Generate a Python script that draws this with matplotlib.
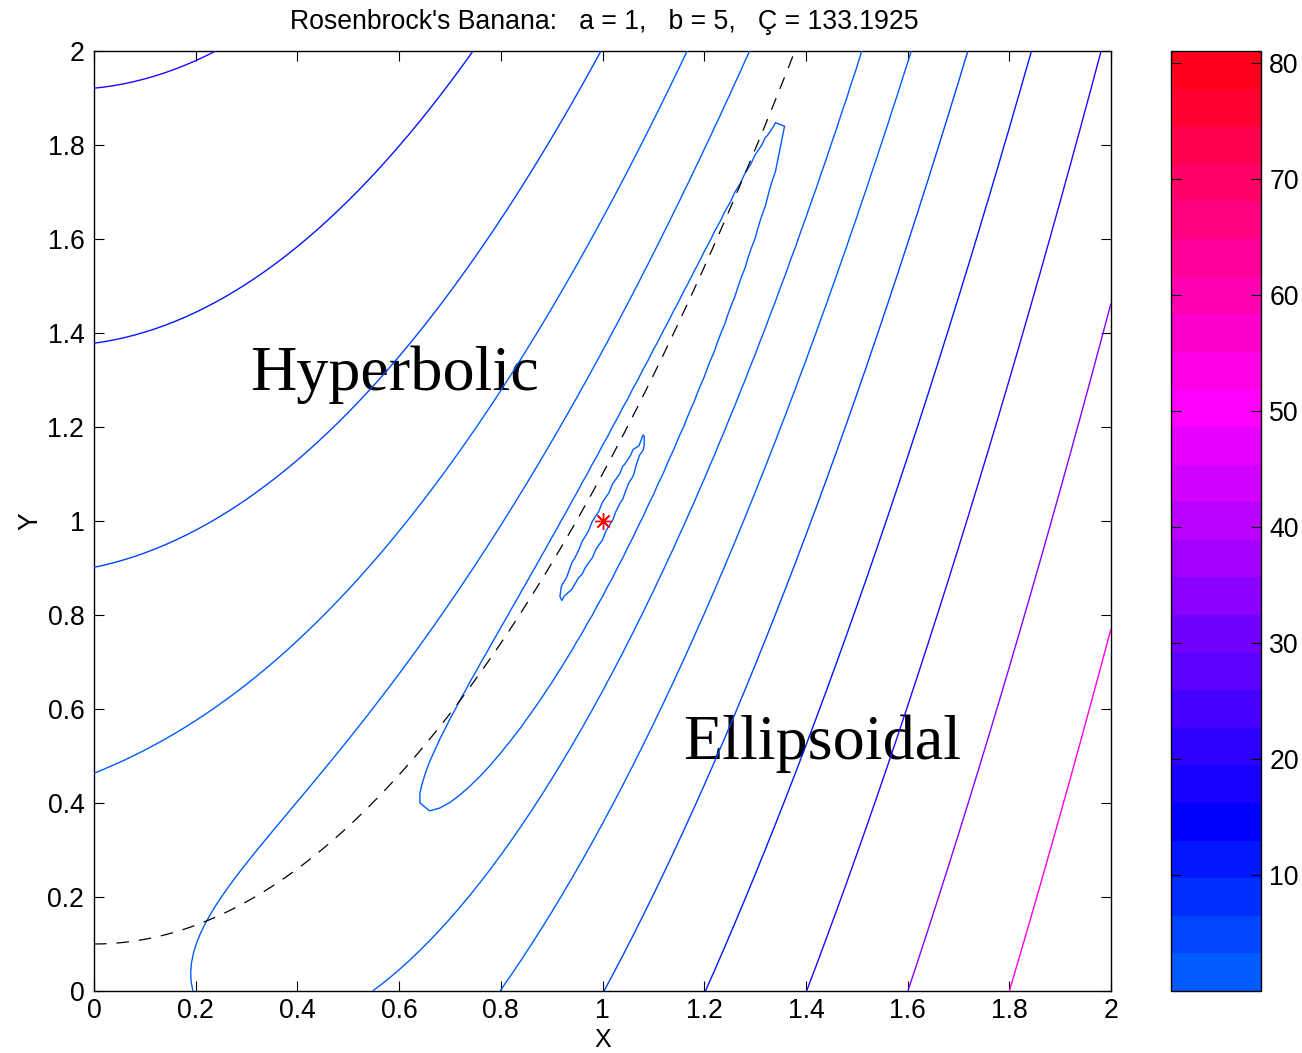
import numpy as np
import matplotlib
matplotlib.use("Agg")
import matplotlib.pyplot as plt
from matplotlib.colors import ListedColormap, Normalize
from matplotlib.cm import ScalarMappable

# ---- data ----
a = 1
b = 5
cond_text = "133.1925"
contour_levels = [0.0081, 0.1296, 0.6561, 2.0736, 5.0625, 10.4976,
                  19.4481, 33.1776, 53.1441, 81.0]
x_ticks = [0, 0.2, 0.4, 0.6, 0.8, 1.0, 1.2, 1.4, 1.6, 1.8, 2.0]
x_tick_labels = ["0", "0.2", "0.4", "0.6", "0.8", "1", "1.2", "1.4", "1.6", "1.8", "2"]
y_ticks = x_ticks
y_tick_labels = x_tick_labels
cbar_ticks = [10, 20, 30, 40, 50, 60, 70, 80]
minimum_x = [1.0]
minimum_y = [1.0]
grid_n = 101

# 25-band colormap (light blue -> blue -> violet -> magenta -> red)
band_r = [0, 0, 0, 0, 0, 0.09, 0.18, 0.27, 0.36, 0.45, 0.55, 0.64, 0.73,
          0.82, 0.91, 1, 1, 1, 1, 1, 1, 1, 1, 1, 1]
band_g = [0.36, 0.27, 0.18, 0.09] + [0] * 21
band_b = [1] * 16 + [0.9, 0.8, 0.7, 0.6, 0.5, 0.4, 0.3, 0.2, 0.1]

FS = 19.2
plt.rcParams["font.family"] = ["Liberation Sans", "DejaVu Sans"]

cmap = ListedColormap(list(zip(band_r, band_g, band_b)))
norm = Normalize(vmin=contour_levels[0], vmax=contour_levels[-1])

xs = np.linspace(0, 2, grid_n)
ys = np.linspace(0, 2, grid_n)
X, Y = np.meshgrid(xs, ys)
Z = (a - X) ** 2 + b * (Y - X ** 2) ** 2

fig = plt.figure(figsize=(13.02, 10.53), dpi=100)
ax = fig.add_axes([94 / 1302, 1 - 991 / 1053, 1017 / 1302, 940 / 1053])

ax.contour(X, Y, Z, levels=contour_levels, cmap=cmap, norm=norm,
           linewidths=1.0, zorder=3)

# boundary between hyperbolic and ellipsoidal regions: det(Hessian) = 0
xb = np.linspace(0, 2, 400)
ax.plot(xb, xb ** 2 + 1 / (2 * b), color="black", lw=0.9,
        dashes=(10, 8), zorder=4)

ax.plot(minimum_x, minimum_y, linestyle="none", marker=(8, 2, 0),
        markersize=12, markeredgewidth=1.0, color="red", zorder=5)

ax.text(0.307, 1.279, "Hyperbolic", family=["Liberation Serif"],
        fontsize=46.2, va="baseline", ha="left", zorder=1)
ax.text(1.158, 0.494, "Ellipsoidal", family=["Liberation Serif"],
        fontsize=46.2, va="baseline", ha="left", zorder=1)

ax.set_xlim(0, 2)
ax.set_ylim(0, 2)
ax.set_xticks(x_ticks)
ax.set_xticklabels(x_tick_labels)
ax.set_yticks(y_ticks)
ax.set_yticklabels(y_tick_labels)
ax.tick_params(direction="in", length=7, width=0.8, top=True, right=True,
               labelsize=FS, pad=7, colors="black")
ax.tick_params(axis="x", pad=5)
for s in ax.spines.values():
    s.set_linewidth(1.0)
ax.set_ylabel("Y", fontsize=FS, labelpad=3)

# x label placed explicitly just above the bottom edge
fig.text(602.5 / 1302, 1 - 1047 / 1053, "X", ha="center", va="baseline",
         fontsize=18)

fig.text(604 / 1302, 1 - 29 / 1053,
         "Rosenbrock's Banana:   a = %d,   b = %d,   \u00c7 = %s" % (a, b, cond_text),
         ha="center", va="baseline", fontsize=FS)

cax = fig.add_axes([1171 / 1302, 1 - 991 / 1053, 90 / 1302, 940 / 1053])
sm = ScalarMappable(norm=norm, cmap=cmap)
cb = fig.colorbar(sm, cax=cax)
cb.set_ticks(cbar_ticks)
cb.outline.set_linewidth(1.0)
cax.tick_params(direction="in", length=7, width=0.8, left=True, right=True,
                labelsize=FS, pad=6)

fig.savefig("out.png", dpi=100)
